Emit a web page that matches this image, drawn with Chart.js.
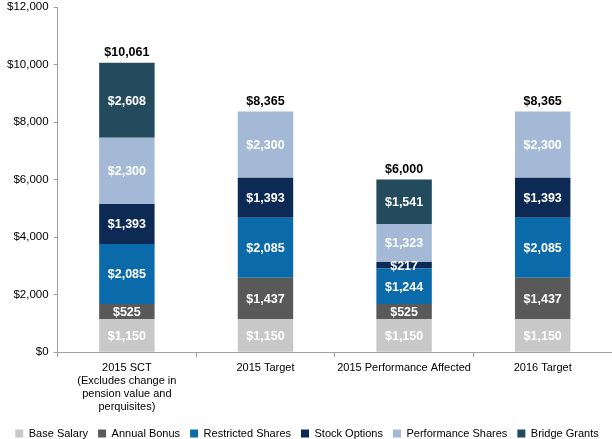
<!DOCTYPE html>
<html><head><meta charset="utf-8">
<script src="https://cdn.jsdelivr.net/npm/chart.js@4/dist/chart.umd.min.js"></script>
<style>html,body{margin:0;padding:0;background:#fff}#wrap{width:612px;height:439px}</style>
</head><body><div id="wrap"><canvas id="c" width="612" height="439"></canvas></div>
<script>
const categories = [["2015 SCT","(Excludes change in","pension value and","perquisites)"],"2015 Target","2015 Performance Affected","2016 Target"];
const baseSalary = [1150,1150,1150,1150];
const annualBonus = [525,1437,525,1437];
const restrictedShares = [2085,2085,1244,2085];
const stockOptions = [1393,1393,217,1393];
const performanceShares = [2300,2300,1323,2300];
const bridgeGrants = [2608,null,1541,null];
const totals = [10061,8365,6000,8365];
const yTicks = [0,2000,4000,6000,8000,10000,12000];

const fmt = v => '$' + v.toLocaleString('en-US');
const FONT = "'Liberation Sans', Arial, sans-serif";

const labelPlugin = {
  id: 'labels',
  afterDatasetsDraw(chart) {
    const ctx = chart.ctx;
    ctx.save();
    ctx.textAlign = 'center';
    ctx.textBaseline = 'middle';
    chart.data.datasets.forEach((ds, di) => {
      const meta = chart.getDatasetMeta(di);
      meta.data.forEach((bar, i) => {
        const v = ds.data[i];
        if (v == null) return;
        const y = (bar.y + bar.base) / 2;
        ctx.font = "bold 12.5px " + FONT;
        ctx.fillStyle = '#ffffff';
        ctx.fillText(fmt(v), bar.x, y + 1);
      });
    });
    const first = chart.getDatasetMeta(0);
    const ys = chart.scales.y;
    totals.forEach((t, i) => {
      const x = first.data[i].x;
      ctx.font = "bold 12.5px " + FONT;
      ctx.fillStyle = '#000000';
      ctx.textBaseline = 'bottom';
      ctx.fillText(fmt(t), x, ys.getPixelForValue(t) - 4);
    });
    ctx.restore();
  }
};

new Chart(document.getElementById('c'), {
  type: 'bar',
  data: {
    labels: categories,
    datasets: [
      {label:'Base Salary', data: baseSalary, backgroundColor:'#c8c8c8'},
      {label:'Annual Bonus', data: annualBonus, backgroundColor:'#595959'},
      {label:'Restricted Shares', data: restrictedShares, backgroundColor:'#0a6aaa'},
      {label:'Stock Options', data: stockOptions, backgroundColor:'#0d2a55'},
      {label:'Performance Shares', data: performanceShares, backgroundColor:'#a3b9d5'},
      {label:'Bridge Grants', data: bridgeGrants, backgroundColor:'#234b5d'}
    ]
  },
  options: {
    responsive: false,
    animation: false,
    devicePixelRatio: 1,
    layout: {padding: {top: 0, right: 0, left: 2, bottom: -10}},
    datasets: {bar: {categoryPercentage: 0.8, barPercentage: 0.5}},
    scales: {
      x: {
        stacked: true,
        grid: {display: true, drawOnChartArea: false, color:'#a0a0a0', tickLength: 5},
        border: {color:'#a0a0a0'},
        ticks: {color:'#000', font:{family:FONT, size:11, lineHeight:1.2}, maxRotation:0, autoSkip:false, padding: 4}
      },
      y: {
        stacked: true,
        min: 0, max: 12000,
        afterBuildTicks: axis => { axis.ticks = yTicks.map(v => ({value: v})); },
        grid: {display: true, drawOnChartArea: false, color:'#a0a0a0', tickLength: 4},
        border: {color:'#a0a0a0'},
        ticks: {color:'#000', font:{family:FONT, size:11.5}, callback: v => fmt(v), padding: 5},
        afterFit: s => { s.paddingTop = 7; }
      }
    },
    plugins: {
      legend: {
        position: 'bottom',
        labels: {boxWidth: 8, boxHeight: 8, color:'#000', font:{family:FONT, size:11}, padding: 10}
      },
      tooltip: {enabled: false}
    }
  },
  plugins: [labelPlugin]
});
</script></body></html>
